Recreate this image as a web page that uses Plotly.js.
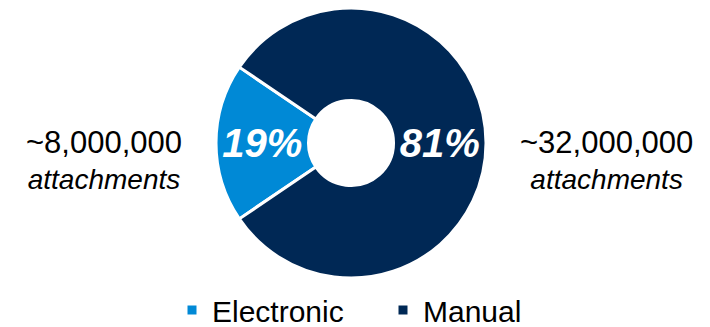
<!DOCTYPE html>
<html>
<head>
<meta charset="utf-8">
<script src="https://cdn.plot.ly/plotly-3.0.1.min.js"></script>
<style>html,body{margin:0;padding:0;background:#fff;}#chart{width:710px;height:327px;}</style>
</head>
<body>
<div id="chart"></div>
<script>
const categories = ['Electronic', 'Manual'];
const shares = [19, 81];
const counts = ['~8,000,000', '~32,000,000'];
const countUnit = 'attachments';
const colors = ['#0089D6', '#002855'];

const W = 710, H = 327;
const trace = {
  type: 'pie',
  labels: categories,
  values: shares,
  sort: false,
  direction: 'clockwise',
  rotation: 235.8,
  hole: 0.315,
  marker: {colors: colors, line: {color: '#ffffff', width: 3}},
  textinfo: 'percent',
  texttemplate: '%{percent:.0%}',
  textposition: 'inside',
  insidetextorientation: 'horizontal',
  textfont: {family: 'Liberation Sans, Arial, sans-serif', size: 40, color: '#ffffff', weight: 'bold', style: 'italic'},
  domain: {x: [0, 702 / W], y: [49 / H, 1 - 8 / H]},
  hoverinfo: 'none'
};

const annFont = {family: 'Liberation Sans, Arial, sans-serif', size: 28, color: '#000000'};
const annX = [104 / W, 606 / W];
const annotations = counts.map((c, i) => ({
  xref: 'paper', yref: 'paper',
  x: annX[i], y: 1 - 160 / H,
  xanchor: 'center', yanchor: 'middle',
  text: '<span style="font-size:31px">' + c + '</span><br><i>' + countUnit + '</i>',
  showarrow: false,
  align: 'center',
  font: annFont
}));

const layout = {
  width: W, height: H,
  margin: {l: 0, r: 0, t: 0, b: 0, autoexpand: false},
  paper_bgcolor: '#ffffff',
  showlegend: true,
  legend: {
    orientation: 'h',
    x: 172 / W, xanchor: 'left',
    y: -9 / H, yanchor: 'bottom',
    font: {family: 'Liberation Sans, Arial, sans-serif', size: 30, color: '#000000'},
    entrywidth: 166, entrywidthmode: 'pixels',
    bgcolor: 'rgba(0,0,0,0)'
  },
  annotations: annotations
};

Plotly.newPlot('chart', [trace], layout, {displayModeBar: false, staticPlot: true});
</script>
</body>
</html>
